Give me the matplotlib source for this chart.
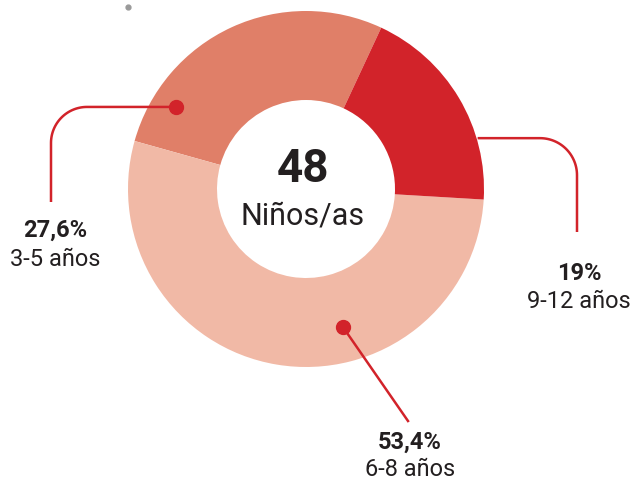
"""Donut chart: share of children by age group."""

import matplotlib.pyplot as plt
import numpy as np

plt.rcParams["font.family"] = ["Roboto", "DejaVu Sans"]

# data
groups = ["3-5 años", "6-8 años", "9-12 años"]
shares = [27.6, 53.4, 19.0]
colors = ["#E07F68", "#F1B9A6", "#D2232A"]
total = 48
total_label = "Niños/as"

TEXT = "#231F20"
LEAD = "#D2232A"


def pct_text(v):
    s = f"{v:.1f}".rstrip("0").rstrip(".")
    return s.replace(".", ",") + "%"


def elbow(ax, x0, y0, x1, y1, r):
    """Horizontal from (x0, y0) to x1, then vertical to y1, rounded corner."""
    sx = np.sign(x1 - x0)
    sy = np.sign(y1 - y0)
    cx, cy = x1 - sx * r, y0 + sy * r
    t = np.linspace(0, np.pi / 2, 30)
    ax_ = cx + sx * r * np.sin(t)
    ay_ = cy - sy * r * np.cos(t)
    xs = np.concatenate([[x0], ax_, [x1]])
    ys = np.concatenate([[y0], ay_, [y1]])
    ax.plot(xs, ys, color=LEAD, lw=1.8, solid_capstyle="butt")


fig = plt.figure(figsize=(6.32, 4.80), dpi=100)
ax = fig.add_axes([0, 0, 1, 1])

center = (306, 291)
R = 178
ax.pie(shares, colors=colors, startangle=65, counterclock=True,
       radius=R, center=center, frame=True,
       wedgeprops=dict(width=89, linewidth=0, edgecolor="none"))
ax.set_xlim(0, 632)
ax.set_ylim(0, 480)
ax.set_aspect("equal")
ax.axis("off")

# centre text
ax.text(303, 311, str(total), ha="center", va="center", fontsize=33,
        fontweight="bold", color=TEXT)
ax.text(303, 264, total_label, ha="center", va="center", fontsize=22,
        color=TEXT)


def polar(ang, rad):
    a = np.deg2rad(ang)
    return center[0] + rad * np.cos(a), center[1] + rad * np.sin(a)


# 3-5 años
px, py = polar(147.8, 154)
elbow(ax, px, py, 51, 278, 36)
ax.plot(px, py, "o", ms=10, color=LEAD)
# 9-12 años
px, py = polar(16.5, 179)
elbow(ax, px, py, 577, 248, 37)
# 6-8 años
px, py = polar(-75, 143)
ax.plot([px, 408], [py, 59], color=LEAD, lw=1.8)
ax.plot(px, py, "o", ms=10, color=LEAD)

label_pos = [(55, 250, 221), (410, 38, 10), (579, 207, 178)]
for g, v, (x, y1, y2) in zip(groups, shares, label_pos):
    ax.text(x, y1, pct_text(v), ha="center", va="center", fontsize=17,
            fontweight="bold", color=TEXT)
    ax.text(x, y2, g, ha="center", va="center", fontsize=17, color=TEXT)

# stray grey dot in the original
ax.plot(128, 473, "o", ms=3.5, color="#9A9A9A")

fig.savefig("out.png", dpi=100)
